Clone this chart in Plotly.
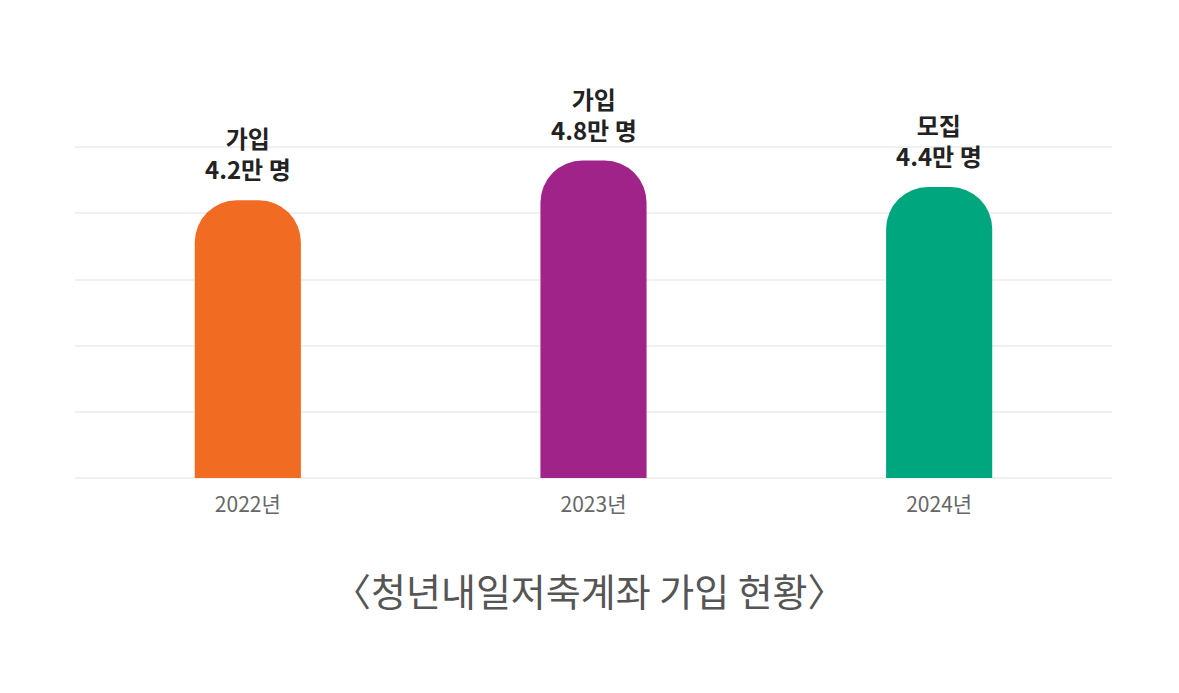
import plotly.graph_objects as go

years = ["2022년", "2023년", "2024년"]
values = [4.2, 4.8, 4.4]
labels = ["가입<br>4.2만 명", "가입<br>4.8만 명", "모집<br>4.4만 명"]
colors = ["#F26B22", "#A0238A", "#00A67E"]
title = "〈청년내일저축계좌 가입 현황〉"

fig = go.Figure()
fig.add_trace(go.Bar(
    x=years, y=values,
    marker=dict(color=colors, line=dict(width=0)),
    width=0.307,
    hoverinfo="skip",
))

for yr, v, lab in zip(years, values, labels):
    fig.add_annotation(
        x=yr, y=v, text=lab, showarrow=False,
        yanchor="bottom", yshift=12,
        font=dict(family="Noto Sans CJK KR", size=24, color="#222222", weight="bold"),
    )

fig.add_annotation(
    x=0.4957, y=-0.335, xref="paper", yref="paper",
    text=title, showarrow=False, yanchor="middle",
    font=dict(family="Noto Sans CJK KR", size=38, color="#555555"),
)

# page has an 8px body margin, so the figure is sized to the visible area
fig.update_layout(
    width=1171, height=685,
    margin=dict(l=67, r=67, t=136, b=215),
    paper_bgcolor="white", plot_bgcolor="white",
    barcornerradius=42,
    showlegend=False,
    xaxis=dict(
        showgrid=False, showline=False, ticks="",
        ticklabelstandoff=12,
        tickfont=dict(family="Noto Sans CJK KR", size=21, color="#666666"),
    ),
    yaxis=dict(
        range=[0, 5.05], tickvals=[0, 1, 2, 3, 4, 5], showticklabels=False,
        gridcolor="#F0F0F0", gridwidth=2,
        zeroline=True, zerolinecolor="#F0F0F0", zerolinewidth=2,
        showline=False,
    ),
)

fig.write_html("out.html")
